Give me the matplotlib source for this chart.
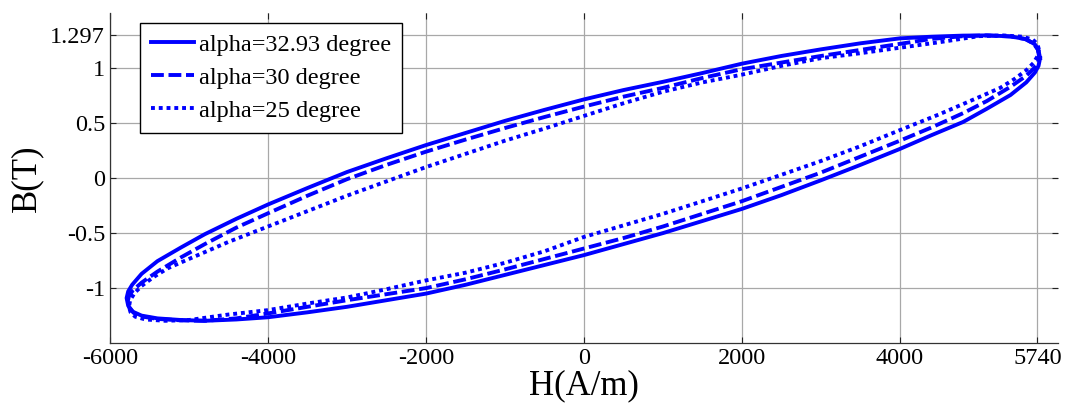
import numpy as np
import matplotlib.pyplot as plt

plt.rcParams['font.family'] = ['Liberation Serif', 'DejaVu Serif']

# H (A/m), B (T) -- upper branch from the right tip, then lower branch back
h_a3293 = [5775, 5755, 5710, 5600, 5400, 5100, 4800, 4400, 4000, 3500, 3000, 2500, 2000, 1500, 1000, 500, 0,
           -500, -1000, -1500, -2000, -2500, -3000, -3500, -4000, -4400, -4800, -5100, -5400, -5600, -5720, -5770, -5790,
           -5770, -5710, -5600, -5400, -5100, -4800, -4400, -4000, -3500, -3000, -2500, -2000, -1500, -1000, -500, 0,
           500, 1000, 1500, 2000, 2500, 3000, 3500, 4000, 4400, 4800, 5100, 5400, 5600, 5710, 5755, 5775]
b_a3293 = [1.09, 1.16, 1.215, 1.262, 1.288, 1.297, 1.295, 1.285, 1.27, 1.225, 1.17, 1.11, 1.04, 0.955, 0.875, 0.80, 0.715,
           0.62, 0.52, 0.41, 0.30, 0.18, 0.055, -0.09, -0.24, -0.37, -0.51, -0.63, -0.755, -0.87, -0.97, -1.03, -1.09,
           -1.16, -1.215, -1.25, -1.275, -1.29, -1.297, -1.285, -1.265, -1.22, -1.17, -1.11, -1.05, -0.97, -0.88, -0.79, -0.70,
           -0.60, -0.50, -0.39, -0.28, -0.155, -0.02, 0.12, 0.265, 0.39, 0.51, 0.63, 0.755, 0.87, 0.96, 1.02, 1.09]

h_a30 = [5765, 5745, 5690, 5580, 5400, 5100, 4800, 4400, 4000, 3500, 3000, 2500, 2000, 1500, 1000, 500, 0,
         -500, -1000, -1500, -2000, -2500, -3000, -3500, -4000, -4400, -4800, -5100, -5400, -5600, -5710, -5760, -5775,
         -5755, -5700, -5600, -5400, -5100, -4800, -4400, -4000, -3500, -3000, -2500, -2000, -1500, -1000, -500, 0,
         500, 1000, 1500, 2000, 2500, 3000, 3500, 4000, 4400, 4800, 5100, 5400, 5600, 5700, 5750, 5765]
b_a30 = [1.10, 1.17, 1.225, 1.265, 1.287, 1.297, 1.29, 1.265, 1.22, 1.165, 1.11, 1.05, 0.99, 0.91, 0.82, 0.74, 0.65,
         0.555, 0.455, 0.35, 0.24, 0.12, -0.01, -0.16, -0.32, -0.45, -0.60, -0.72, -0.85, -0.95, -1.02, -1.07, -1.12,
         -1.18, -1.225, -1.258, -1.28, -1.293, -1.297, -1.275, -1.23, -1.17, -1.11, -1.055, -1.0, -0.92, -0.83, -0.735, -0.64,
         -0.545, -0.44, -0.325, -0.21, -0.08, 0.05, 0.195, 0.34, 0.46, 0.59, 0.70, 0.83, 0.93, 1.0, 1.05, 1.10]

h_a25 = [5760, 5740, 5680, 5550, 5300, 5000, 4500, 4000, 3500, 3000, 2500, 2000, 1500, 1000, 500, 0,
         -500, -1000, -1500, -2000, -2500, -3000, -3500, -4000, -4500, -5000, -5270, -5450, -5600, -5690, -5745, -5760,
         -5740, -5680, -5550, -5300, -5000, -4500, -4000, -3500, -3000, -2500, -2000, -1500, -1000, -500, 0,
         500, 1000, 1500, 2000, 2500, 3000, 3500, 4000, 4500, 5000, 5270, 5450, 5600, 5690, 5745, 5760]
b_a25 = [1.17, 1.22, 1.26, 1.285, 1.297, 1.29, 1.235, 1.185, 1.135, 1.09, 1.02, 0.94, 0.87, 0.785, 0.68, 0.565,
         0.45, 0.34, 0.22, 0.10, -0.03, -0.16, -0.30, -0.44, -0.58, -0.735, -0.82, -0.90, -0.98, -1.045, -1.11, -1.17,
         -1.22, -1.26, -1.285, -1.297, -1.29, -1.24, -1.2, -1.14, -1.085, -1.01, -0.93, -0.86, -0.77, -0.665, -0.535,
         -0.43, -0.325, -0.21, -0.094, 0.03, 0.155, 0.29, 0.436, 0.58, 0.735, 0.82, 0.90, 0.98, 1.045, 1.11, 1.17]

x_ticks = [-6000, -4000, -2000, 0, 2000, 4000, 5740]
y_ticks = [-1, -0.5, 0, 0.5, 1, 1.297]
y_tick_labels = ['-1', '-0.5', '0', '0.5', '1', '1.297']

fig = plt.figure(figsize=(10.65, 4.08), dpi=100)
ax = fig.add_axes([0.1033, 0.159, 0.890, 0.809])

ax.plot(h_a3293, b_a3293, color='#0000ff', lw=2.8, label='alpha=32.93 degree')
ax.plot(h_a30, b_a30, color='#0000ff', lw=2.8, dashes=(3.3, 1.2), label='alpha=30 degree')
ax.plot(h_a25, b_a25, color='#0000ff', lw=2.8, dashes=(1, 1.0), dash_capstyle='butt', label='alpha=25 degree')

ax.set_xlim(-6000, 6000)
ax.set_ylim(-1.5, 1.5)
ax.set_xticks(x_ticks)
ax.set_xticklabels([str(t) for t in x_ticks])
ax.set_yticks(y_ticks)
ax.set_yticklabels(y_tick_labels)
ax.tick_params(direction='in', length=4, width=0.8, labelsize=17.5, top=True, right=True, colors='#222222')
ax.tick_params(axis='both', labelcolor='black')
ax.grid(True, color='#a8a8a8', lw=0.9)

for side in ['top', 'right']:
    ax.spines[side].set_visible(False)
for side in ['left', 'bottom']:
    ax.spines[side].set_color('#333333')
    ax.spines[side].set_linewidth(0.9)

ax.set_xlabel('H(A/m)', fontsize=25, labelpad=0)
ax.set_ylabel('B(T)', fontsize=25, labelpad=5)

leg = ax.legend(loc='upper left', bbox_to_anchor=(0.032, 0.97), borderaxespad=0, fontsize=17.5,
                fancybox=False, framealpha=1, edgecolor='black', handlelength=1.75,
                handletextpad=0.2, labelspacing=0.45, borderpad=0.45)
leg.get_frame().set_linewidth(1.0)

fig.savefig('out.png', dpi=100)
